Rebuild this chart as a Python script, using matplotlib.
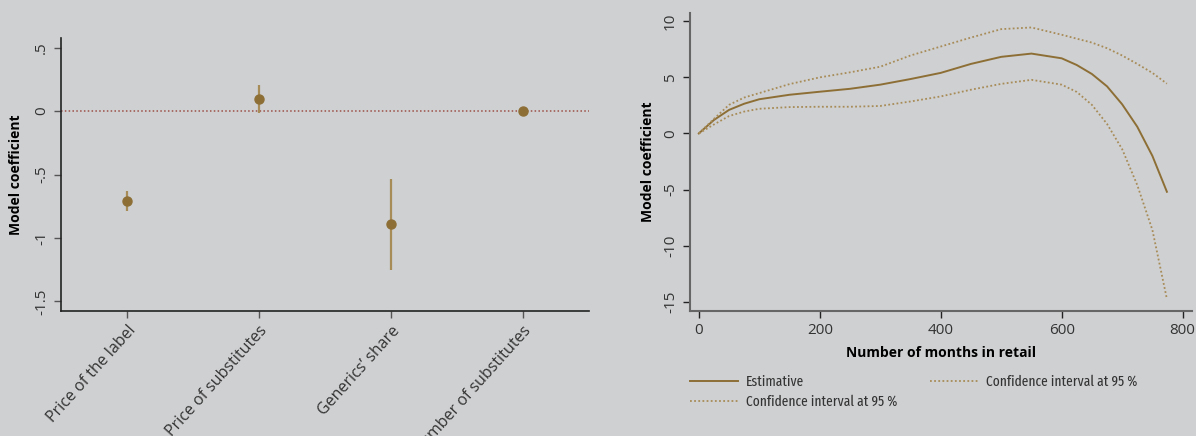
import numpy as np
import matplotlib
matplotlib.use('Agg')
import matplotlib.pyplot as plt

plt.rcParams['font.family'] = ['Open Sans', 'DejaVu Sans']

bg = '#cfd0d2'
gold = '#8d6f36'
gold_light = '#a88c58'
zero_red = '#9c4f47'

# coefficient plot
labels = ['Price of the label', 'Price of substitutes', "Generics\u2019 share", 'Number of substitutes']
coef = [-0.711, 0.097, -0.893, -0.002]
ci_low = [-0.787, -0.013, -1.252, -0.015]
ci_high = [-0.630, 0.205, -0.535, 0.011]

# spline of months in retail
months = [0, 25, 50, 75, 100, 150, 200, 250, 300, 350, 400, 450, 500, 550,
          600, 625, 650, 675, 700, 725, 750, 774]
estimate = [0, 1.2, 2.1, 2.65, 3.05, 3.45, 3.72, 3.98, 4.35, 4.85, 5.4, 6.2, 6.83, 7.12,
            6.7, 6.1, 5.3, 4.2, 2.6, 0.6, -2.0, -5.2]
upper = [0, 1.3, 2.55, 3.2, 3.6, 4.4, 5.0, 5.45, 5.95, 6.95, 7.75, 8.55, 9.3, 9.45,
         8.8, 8.45, 8.1, 7.6, 6.95, 6.2, 5.4, 4.44]
lower = [0, 0.8, 1.55, 1.95, 2.2, 2.35, 2.38, 2.38, 2.45, 2.85, 3.3, 3.9, 4.42, 4.78,
         4.35, 3.7, 2.55, 0.85, -1.4, -4.6, -8.6, -14.76]

fig = plt.figure(figsize=(11.96, 4.36), dpi=100, facecolor=bg)
ax1 = fig.add_axes([0.051, 0.2867, 0.4415, 0.626])
ax2 = fig.add_axes([0.5767, 0.2867, 0.4197, 0.6835])

for ax in (ax1, ax2):
    ax.set_facecolor(bg)
    for side in ('top', 'right'):
        ax.spines[side].set_visible(False)

# left panel
pos = np.arange(1, len(labels) + 1)
ax1.axhline(0, color=zero_red, linestyle=(0, (1, 1.5)), linewidth=1.1, zorder=1)
ax1.vlines(pos, ci_low, ci_high, color=gold_light, linewidth=1.6, zorder=2)
ax1.plot(pos, coef, 'o', color=gold, markersize=6.5, zorder=3)
ax1.set_xlim(0.5, 4.5)
ax1.set_ylim(-1.575, 0.575)
ax1.set_yticks([0.5, 0, -0.5, -1, -1.5])
ax1.set_yticklabels(['.5', '0', '-.5', '-1', '-1.5'], rotation=90, va='center')
ax1.set_xticks(pos)
ax1.set_xticklabels(labels, rotation=48, ha='right', rotation_mode='anchor')
ax1.set_ylabel('Model coefficient', fontweight='bold', fontsize=10, labelpad=8)
for sp in ('left', 'bottom'):
    ax1.spines[sp].set_color('#222222')
    ax1.spines[sp].set_linewidth(1.2)
ax1.tick_params(axis='both', colors='#555555', labelcolor='#333333', labelsize=11,
                length=5, width=1)
ax1.tick_params(axis='x', labelsize=11.5)

# right panel
ax2.plot(months, estimate, color=gold, linewidth=1.4, label='Estimative')
ax2.plot(months, lower, color=gold_light, linewidth=1.3, linestyle=(0, (1, 1.3)),
         label='Confidence interval at 95 %')
ax2.plot(months, upper, color=gold_light, linewidth=1.3, linestyle=(0, (1, 1.3)),
         label='Confidence interval at 95 %')
ax2.set_xlim(-15, 815)
ax2.set_ylim(-15.83, 10.74)
ax2.set_xticks([0, 200, 400, 600, 800])
ax2.set_yticks([10, 5, 0, -5, -10, -15])
ax2.set_yticklabels(['10', '5', '0', '-5', '-10', '-15'], rotation=90, va='center')
ax2.set_xlabel('Number of months in retail', fontweight='bold', fontsize=10, labelpad=6)
ax2.set_ylabel('Model coefficient', fontweight='bold', fontsize=10, labelpad=6)
for sp in ('left', 'bottom'):
    ax2.spines[sp].set_color('#666666')
    ax2.spines[sp].set_linewidth(1.5)
ax2.tick_params(axis='both', colors='#222222', labelcolor='#333333', labelsize=11,
                length=5, width=1)

ax2.legend(loc='upper left', bbox_to_anchor=(0.0, -0.213), ncol=2, frameon=False,
           borderpad=0, borderaxespad=0,
           handlelength=3.3, columnspacing=2.25, labelspacing=0.4, handletextpad=0.55,
           prop={'family': ['Fira Sans Extra Condensed', 'Open Sans'], 'weight': 'normal',
                 'size': 10.5})
for txt in ax2.get_legend().get_texts():
    txt.set_color('#333333')

fig.savefig('out.png', dpi=100, facecolor=bg)
